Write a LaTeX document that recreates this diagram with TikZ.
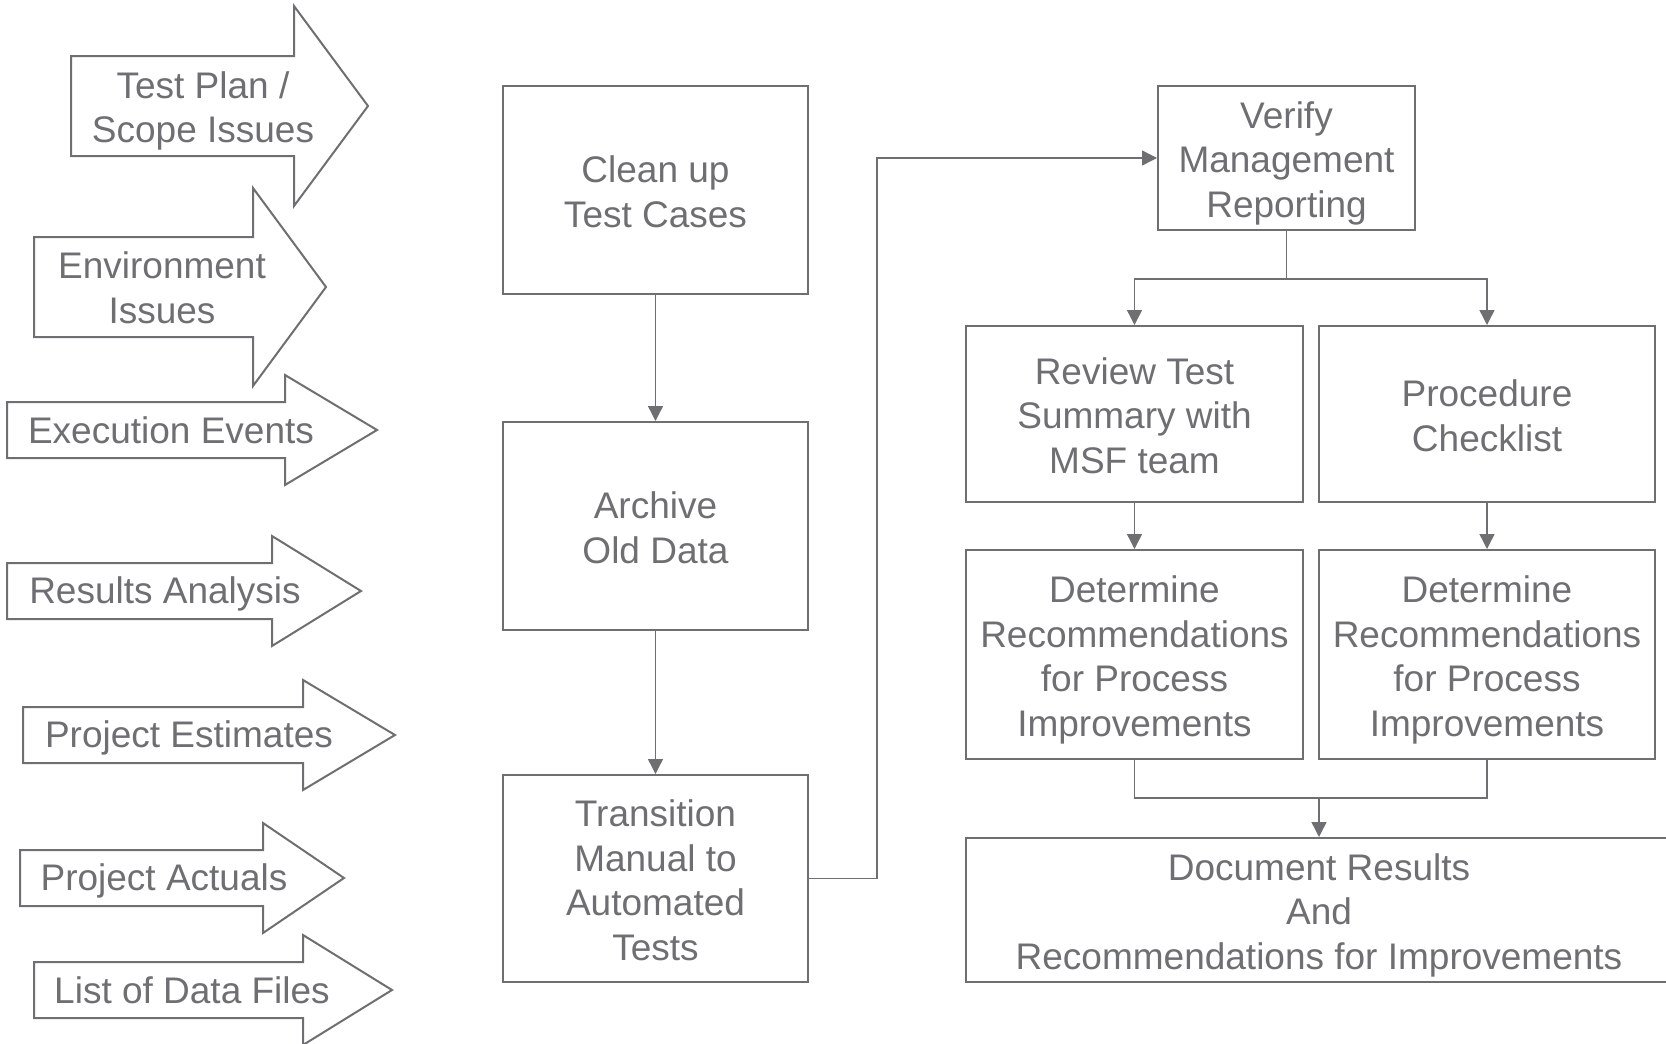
\documentclass[tikz,border=0pt]{standalone}
\usepackage{fontspec}
\setmainfont{Liberation Sans}
\usepackage{xcolor}
\usepackage{tikz}
\usetikzlibrary{arrows.meta}

\definecolor{flowGray}{RGB}{110,110,115}

% input arrow: left x, head x, tip x, centre y, body half height, head half height
\newcommand{\inArrow}[6]{%
  \draw[inArrowLine] (#1,#4-#5) -- (#2,#4-#5) -- (#2,#4-#6) -- (#3,#4)
    -- (#2,#4+#6) -- (#2,#4+#5) -- (#1,#4+#5) -- cycle;}
% struts so that box texts sit like the original
\newcommand{\padTop}{\rule{0pt}{18.7pt}}
\newcommand{\padBot}{\rule[-3.9pt]{0pt}{3.9pt}}

\begin{document}
\begin{tikzpicture}
[
	x=0.5pt, y=-0.5pt,
	inArrowLine/.style={line width=1pt, color=flowGray, line join=miter},
	inText/.style={align=center, text=flowGray, font=\fontsize{18.5pt}{22.3pt}\selectfont, inner sep=0pt},
	taskBox/.style={draw=flowGray, line width=1pt, align=center, text=flowGray, inner sep=0pt,
		font=\fontsize{18.5pt}{22.3pt}\selectfont},
	myConnLine/.style={line width=0.7pt, color=flowGray},
	myConnArrow/.style={myConnLine, -{Triangle[length=7.5pt,width=7.5pt]}}
]

\useasboundingbox (0,0) rectangle (1666,1044);

% Draw input arrows
\inArrow{71}{294}{368}{106}{50}{100}
\inArrow{34}{253}{326}{287}{50}{99}
\inArrow{7}{285}{377}{430}{28}{55}
\inArrow{7}{272}{361}{591}{28}{55}
\inArrow{23}{303}{395}{735}{28}{55}
\inArrow{20}{263}{344}{878}{28}{55}
\inArrow{34}{303}{392}{990}{28}{55}

% Input arrow labels
\node[inText] (plan) at (203,111) {Test Plan /\\Scope Issues};
\node[inText] (env) at (162,288) {Environment\\Issues};
\node[inText] (exec) at (171,430) {Execution Events};
\node[inText] (results) at (165,594) {Results Analysis};
\node[inText] (estim) at (189,738) {Project Estimates};
\node[inText] (actuals) at (164,881) {Project Actuals};
\node[inText] (files) at (192,990) {List of Data Files};

% Left column of tasks
\node[taskBox, minimum width=152.5pt, minimum height=104pt] (clean) at (655.5,190) {\padTop Clean up\\Test Cases\padBot};
\node[taskBox, minimum width=152.5pt, minimum height=104pt] (archive) at (655.5,526) {\padTop Archive\\Old Data\padBot};
\node[taskBox, minimum width=152.5pt, minimum height=103.5pt] (trans) at (655.5,878.5) {\padTop Transition\\Manual to\\Automated\\Tests\padBot};

% Right side tasks
\node[taskBox, minimum width=128.5pt, minimum height=72pt] (verify) at (1286.5,158) {\padTop Verify\\Management\\Reporting\padBot};
\node[taskBox, minimum width=168.5pt, minimum height=88pt] (review) at (1134.5,414) {\padTop Review Test\\Summary with\\MSF team\padBot};
\node[taskBox, minimum width=168pt, minimum height=88pt] (proc) at (1487,414) {\padTop Procedure\\Checklist\padBot};
\node[taskBox, minimum width=168.5pt, minimum height=104.5pt] (detl) at (1134.5,654.5) {\padTop Determine\\Recommendations\\for Process\\Improvements\padBot};
\node[taskBox, minimum width=168pt, minimum height=104.5pt] (detr) at (1487,654.5) {\padTop Determine\\Recommendations\\for Process\\Improvements\padBot};
\node[taskBox, minimum width=353pt, minimum height=72pt] (doc) at (1319,910) {\padTop Document Results\\And\\Recommendations for Improvements\padBot};

% Connections
\draw[myConnArrow] (clean) -- (archive);
\draw[myConnArrow] (archive) -- (trans);
\draw[myConnArrow] (trans.east) -- ++(68,0) |- (verify.west);
\draw[myConnArrow] (verify.south) -- ++(0,48) -| (review.north);
\draw[myConnArrow] (verify.south) -- ++(0,48) -| (proc.north);
\draw[myConnArrow] (review) -- (detl);
\draw[myConnArrow] (proc) -- (detr);
\draw[myConnLine] (detl.south) -- ++(0,38) -| (detr.south);
\coordinate (join) at ([yshift=-19pt]doc.north |- detl.south);
\draw[myConnArrow] (join) -- (doc.north);

\end{tikzpicture}
\end{document}
